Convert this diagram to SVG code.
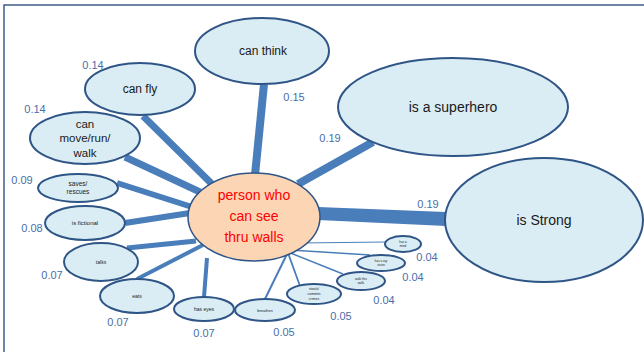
<svg xmlns="http://www.w3.org/2000/svg" width="644" height="352" viewBox="0 0 644 352">
<style>
.n{fill:#daedf4;stroke:#2f5587;stroke-width:2}
.c{fill:#fcd5b4;stroke:#2f5587;stroke-width:1.5}
.t{font-family:"Liberation Sans",Arial,sans-serif;fill:#1a1a1a;text-anchor:middle}
.ct{font-family:"Liberation Sans",Arial,sans-serif;fill:#ff0000;text-anchor:middle;font-size:14px}
.v{font-family:"Liberation Sans",Arial,sans-serif;fill:#4a6ea8;font-size:11px;text-anchor:middle}
.e{stroke:#4a7ebb;stroke-linecap:butt;fill:none}
</style>
<rect width="644" height="352" fill="#ffffff"/>
<path d="M4,352 V5 H644" fill="none" stroke="#3e5f8a" stroke-width="1.5"/>
<g id="connectors">
<line class="e" x1="264" y1="84" x2="255" y2="175" stroke-width="8"/>
<line class="e" x1="143" y1="116" x2="215" y2="187" stroke-width="7"/>
<line class="e" x1="125" y1="157" x2="200" y2="192" stroke-width="7"/>
<line class="e" x1="117" y1="183" x2="192" y2="207" stroke-width="6"/>
<line class="e" x1="125" y1="223" x2="190" y2="213" stroke-width="6"/>
<line class="e" x1="127" y1="248" x2="196" y2="241" stroke-width="5"/>
<line class="e" x1="137" y1="279" x2="203" y2="245" stroke-width="4"/>
<line class="e" x1="204" y1="297" x2="207" y2="258" stroke-width="4"/>
<line class="e" x1="265" y1="299" x2="287" y2="254" stroke-width="2"/>
<line class="e" x1="300" y1="286" x2="288" y2="253" stroke-width="1.8"/>
<line class="e" x1="343" y1="274" x2="288" y2="252" stroke-width="1.5"/>
<line class="e" x1="370" y1="255" x2="290" y2="250" stroke-width="1.3"/>
<line class="e" x1="385" y1="242" x2="300" y2="243" stroke-width="1"/>
<line class="e" x1="373" y1="142" x2="298" y2="184" stroke-width="8"/>
<polygon points="318,207 446,212 446,226 318,220" fill="#4a7ebb"/>
</g>
<g id="can-think"><ellipse class="n" cx="262" cy="51" rx="67" ry="33"/><text class="t" x="263" y="55" font-size="12">can think</text></g>
<g id="can-fly"><ellipse class="n" cx="140" cy="89" rx="55" ry="26"/><text class="t" x="140" y="93" font-size="12">can fly</text></g>
<g id="can-move"><ellipse class="n" cx="85" cy="138" rx="55" ry="26"/><text class="t" x="85" y="128" font-size="11.5">can</text><text class="t" x="85" y="142" font-size="11.5">move/run/</text><text class="t" x="85" y="157" font-size="11.5">walk</text></g>
<g id="saves"><ellipse class="n" cx="78" cy="188" rx="40" ry="14"/><text class="t" x="78" y="186" font-size="6.5">saves/</text><text class="t" x="78" y="193.5" font-size="6.5">rescues</text></g>
<g id="fictional"><ellipse class="n" cx="85" cy="223" rx="40" ry="17"/><text class="t" x="85" y="225" font-size="6">is fictional</text></g>
<g id="talks"><ellipse class="n" cx="101" cy="262" rx="37" ry="19"/><text class="t" x="101" y="264" font-size="5">talks</text></g>
<g id="eats"><ellipse class="n" cx="137" cy="296" rx="37" ry="17"/><text class="t" x="137" y="298" font-size="5">eats</text></g>
<g id="has-eyes"><ellipse class="n" cx="204" cy="309" rx="30" ry="12"/><text class="t" x="204" y="311" font-size="5">has eyes</text></g>
<g id="breathes"><ellipse class="n" cx="265" cy="310" rx="30" ry="11"/><text class="t" x="265" y="311.5" font-size="4">breathes</text></g>
<g id="steals"><ellipse class="n" cx="314" cy="294" rx="27" ry="10"/><text class="t" x="314" y="290" font-size="3.5">steals/</text><text class="t" x="314" y="295" font-size="3.5">commits</text><text class="t" x="314" y="300" font-size="3.5">crimes</text></g>
<g id="walk-thru"><ellipse class="n" cx="361" cy="281" rx="24" ry="9"/><text class="t" x="361" y="280" font-size="3">walk thru</text><text class="t" x="361" y="284" font-size="3">walls</text></g>
<g id="xray"><ellipse class="n" cx="381" cy="263" rx="24" ry="8"/><text class="t" x="381" y="262" font-size="3">has x-ray</text><text class="t" x="381" y="266" font-size="3">vision</text></g>
<g id="mind"><ellipse class="n" cx="403" cy="244" rx="18" ry="8"/><text class="t" x="403" y="243" font-size="3">has a</text><text class="t" x="403" y="247" font-size="3">mind</text></g>
<g id="superhero"><ellipse class="n" cx="453" cy="107" rx="115" ry="49"/><text class="t" x="453" y="112" font-size="14">is a superhero</text></g>
<g id="strong"><ellipse class="n" cx="544" cy="220" rx="99" ry="62"/><text class="t" x="544" y="225" font-size="14">is Strong</text></g>
<g id="center"><ellipse class="c" cx="254" cy="217" rx="66" ry="44"/><text class="ct" x="254" y="200">person who</text><text class="ct" x="254" y="221">can see</text><text class="ct" x="254" y="242">thru walls</text></g>
<g id="labels">
<text class="v" x="93" y="69">0.14</text>
<text class="v" x="35" y="113">0.14</text>
<text class="v" x="294" y="101">0.15</text>
<text class="v" x="330" y="142">0.19</text>
<text class="v" x="428" y="208">0.19</text>
<text class="v" x="22" y="184">0.09</text>
<text class="v" x="32" y="232">0.08</text>
<text class="v" x="52" y="279">0.07</text>
<text class="v" x="118" y="326">0.07</text>
<text class="v" x="204" y="337">0.07</text>
<text class="v" x="284" y="336">0.05</text>
<text class="v" x="341" y="320">0.05</text>
<text class="v" x="384" y="304">0.04</text>
<text class="v" x="413" y="281">0.04</text>
<text class="v" x="427" y="261">0.04</text>
</g>
</svg>
